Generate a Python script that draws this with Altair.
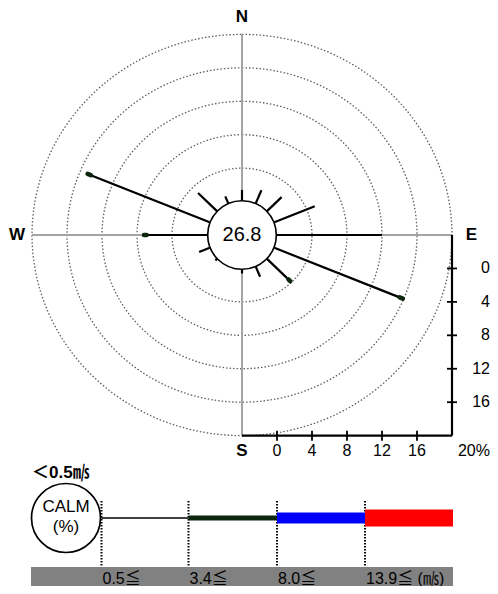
import altair as alt
import numpy as np
import pandas as pd

# ---------------- data ----------------
directions = ["N", "NNE", "NE", "ENE", "E", "ESE", "SE", "SSE",
              "S", "SSW", "SW", "WSW", "W", "WNW", "NW", "NNW"]
pct_05_34 = [1.4, 1.8, 2.4, 5.0, 12.0, 15.5, 3.5, 1.4,
             0.6, 0.1, 0.3, 1.3, 6.9, 14.7, 3.1, 1.0]     # 0.5-3.4 m/s
pct_34_80 = [0, 0, 0, 0, 0, 0.4, 0.3, 0,
             0, 0, 0, 0, 0.3, 0.4, 0, 0]                   # 3.4-8.0 m/s
pct_80_139 = [0] * 16                                       # 8.0-13.9 m/s
pct_139_up = [0] * 16                                       # >=13.9 m/s
calm_pct = 26.8
ring_values = [4, 8, 12, 16, 20]
scale_ticks = [0, 4, 8, 12, 16]
compass_labels = ["N", "E", "S", "W"]
speed_labels = ["0.5≦", "3.4≦", "8.0≦", "13.9≦ (㎧)"]
calm_label = "＜0.5㎧"

# ---------------- style / layout ----------------
W, H = 482, 578
CX, CY = 242, 235          # rose centre (page px)
KX, KY = 8.75, 8.36        # px per percent
R0 = 4                     # centre circle radius (in percent units)
RMAX = 20
class_colors = ["#000000", "#0c260c", "#0000ff", "#ff0000"]
class_widths = [2, 4.5, 8, 12]
legend_widths = [1.5, 5, 11, 17]
legend_edges = [101.5, 188.5, 277, 365, 453]
LEG_Y = 518
FONT = "Liberation Sans, Noto Sans CJK JP"
TXT = "#000000"

xs = alt.Scale(domain=[8, 8 + W], nice=False, zero=False)
ys = alt.Scale(domain=[8, 8 + H], nice=False, zero=False, reverse=True)


def X(f="x"):
    return alt.X(f, type="quantitative", scale=xs, axis=None)


def Y(f="y"):
    return alt.Y(f, type="quantitative", scale=ys, axis=None)


def polar(deg, pct):
    a = np.radians(deg)
    r = R0 + np.asarray(pct, dtype=float)
    return CX + np.sin(a) * r * KX, CY - np.cos(a) * r * KY


# rings
rows = []
for v in ring_values:
    for t in range(0, 361, 2):
        x, y = polar(t, v)
        rows.append({"ring": v, "t": t, "x": float(x), "y": float(y)})
rings = alt.Chart(pd.DataFrame(rows)).mark_line(
    color="#5f5f5f", strokeWidth=1.3, strokeDash=[1.5, 2.0]
).encode(x=X(), y=Y(), detail="ring:N", order="t:Q")

# grey compass axes
xr_, _ = polar(90, RMAX)
xl_, _ = polar(270, RMAX)
_, yt_ = polar(0, RMAX)
_, yb_ = polar(180, RMAX)
gax = pd.DataFrame({
    "x": [CX, CX, xl_], "y": [yt_, CY, CY],
    "x2": [CX, CX, xr_], "y2": [CY, yb_, CY]})
grey_axes = alt.Chart(gax).mark_rule(color="#a4a4a4", strokeWidth=2).encode(
    x=X(), y=Y(), x2="x2:Q", y2="y2:Q")

# wind lines
seg_rows = []
classes = [pct_05_34, pct_34_80, pct_80_139, pct_139_up]
for i, d in enumerate(directions):
    deg = i * 22.5
    start = 0.0
    for c, vals in enumerate(classes):
        v = vals[i]
        if v <= 0:
            continue
        x1, y1 = polar(deg, start)
        x2, y2 = polar(deg, start + v)
        seg_rows.append({"dir": d, "cls": c, "x": float(x1), "y": float(y1),
                         "x2": float(x2), "y2": float(y2),
                         "color": class_colors[c], "w": class_widths[c]})
        start += v
segs = pd.DataFrame(seg_rows)
thin = alt.Chart(segs[segs.cls == 0]).mark_rule(color="black", strokeWidth=2.2).encode(
    x=X(), y=Y(), x2="x2:Q", y2="y2:Q")
thick = alt.Chart(segs[segs.cls > 0]).mark_rule(strokeCap="round").encode(
    x=X(), y=Y(), x2="x2:Q", y2="y2:Q",
    color=alt.Color("color:N", scale=None),
    size=alt.Size("w:Q", scale=None))

# centre circle + calm value
centre = pd.DataFrame({"x": [CX], "y": [CY], "t": [f"{calm_pct:.1f}"]})
circle = alt.Chart(centre).mark_point(
    shape="circle", filled=True, fill="white", stroke="black", strokeWidth=1.6,
    size=(2 * 34.3) ** 2, opacity=1
).encode(x=X(), y=Y())
calm_txt = alt.Chart(centre).mark_text(fontSize=20, font=FONT, color=TXT).encode(
    x=X(), y=Y("y:Q"), text="t:N")

# compass labels
cl = pd.DataFrame({"t": compass_labels,
                   "x": [CX, 471.5, CX, 17],
                   "y": [17, 235, 451, 235]})
compass = alt.Chart(cl).mark_text(fontSize=17, fontWeight="bold", font=FONT,
                                  color=TXT).encode(x=X(), y=Y(), text="t:N")

# black scale axes
x_corner, _ = polar(90, RMAX)
y_corner = yb_
bax = pd.DataFrame({
    "x": [CX, x_corner], "y": [y_corner, CY],
    "x2": [x_corner, x_corner], "y2": [y_corner, y_corner]})
black_axes = alt.Chart(bax).mark_rule(color="black", strokeWidth=2.2).encode(
    x=X(), y=Y(), x2="x2:Q", y2="y2:Q")

bt = pd.DataFrame({"v": scale_ticks})
bt["x"] = [float(polar(90, v)[0]) for v in scale_ticks]
bt["y"] = y_corner - 5
bt["y2"] = y_corner + 5
bt["lab"] = [str(v) for v in scale_ticks]
bt["ly"] = 451
bottom_ticks = alt.Chart(bt).mark_rule(color="black", strokeWidth=1.8).encode(
    x=X(), y=Y(), y2="y2:Q")
bottom_labels = alt.Chart(bt).mark_text(fontSize=16, font=FONT, color=TXT).encode(
    x=X(), y=Y("ly:Q"), text="lab:N")

rt = pd.DataFrame({"v": scale_ticks})
rt["y"] = [float(CY + (R0 + v) * KY) for v in scale_ticks]
rt["x"] = x_corner - 5
rt["x2"] = x_corner + 5
rt["lab"] = [str(v) for v in scale_ticks]
rt["lx"] = 490
right_ticks = alt.Chart(rt).mark_rule(color="black", strokeWidth=1.8).encode(
    x=X(), y=Y(), x2="x2:Q")
right_labels = alt.Chart(rt).mark_text(fontSize=16, font=FONT, color=TXT,
                                       align="right").encode(
    x=X("lx:Q"), y=Y(), text="lab:N")

pct_lab = alt.Chart(pd.DataFrame({"x": [490], "y": [451], "t": [f"{RMAX}%"]})).mark_text(
    fontSize=16, font=FONT, color=TXT, align="right").encode(
    x=X(), y=Y(), text="t:N")

# ---------------- legend ----------------
calm_head = alt.Chart(pd.DataFrame({"x": [32], "y": [473], "t": [calm_label]})).mark_text(
    fontSize=17, fontWeight="bold", font=FONT, align="left", color=TXT).encode(
    x=X(), y=Y(), text="t:N")
calm_circle = alt.Chart(pd.DataFrame({"x": [66], "y": [518]})).mark_point(
    shape="circle", filled=True, fill="white", stroke="black", strokeWidth=1.7,
    size=(2 * 34.5) ** 2, opacity=1).encode(x=X(), y=Y())
calm_words = alt.Chart(pd.DataFrame({"x": [66, 66], "y": [507, 527],
                                     "t": ["CALM", "(%)"]})).mark_text(
    fontSize=17, font=FONT, color=TXT).encode(x=X(), y=Y(), text="t:N")

band = alt.Chart(pd.DataFrame({"x": [31], "x2": [453], "y": [567], "y2": [8 + H]})).mark_rect(
    color="#818181").encode(x=X(), x2="x2:Q", y=Y(), y2="y2:Q")

leg = pd.DataFrame({"x": legend_edges[:-1], "x2": legend_edges[1:],
                    "y": [LEG_Y] * 4, "color": class_colors,
                    "w": legend_widths, "lab": speed_labels})
leg_bars = alt.Chart(leg).mark_rule(strokeCap="butt").encode(
    x=X(), x2="x2:Q", y=Y(),
    color=alt.Color("color:N", scale=None),
    size=alt.Size("w:Q", scale=None))
leg["vy"] = 501
leg["vy2"] = 567
leg_dots = alt.Chart(leg).mark_rule(color="black", strokeWidth=2,
                                    strokeDash=[1.5, 1.5]).encode(
    x=X(), y=Y("vy:Q"), y2="vy2:Q")
leg["lx"] = leg["x"] + 1
leg["ly"] = 579
leg_labels = alt.Chart(leg).mark_text(fontSize=16, font=FONT, color=TXT,
                                      align="left").encode(
    x=X("lx:Q"), y=Y("ly:Q"), text="lab:N")

chart = alt.layer(
    rings, grey_axes, thin, thick, circle, calm_txt, compass,
    black_axes, bottom_ticks, bottom_labels, right_ticks, right_labels, pct_lab,
    band, leg_dots, leg_bars, calm_circle, calm_words, calm_head, leg_labels
).properties(
    width=W, height=H, padding=0, autosize=alt.AutoSizeParams(type="none"),
    background="white"
).configure_view(stroke=None)

chart.save("out.html", embed_options={"renderer": "svg", "actions": False})
